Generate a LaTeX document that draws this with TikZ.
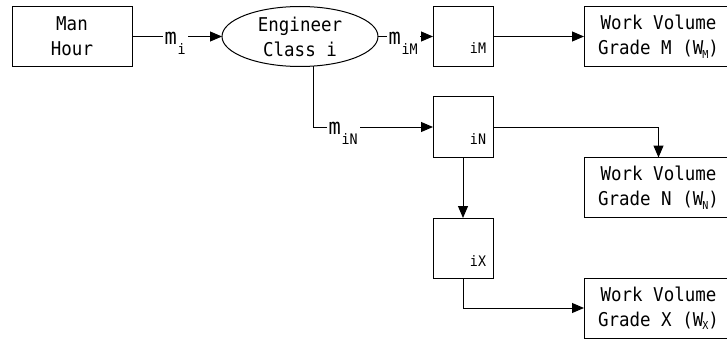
\documentclass[tikz,border=0pt]{standalone}
\usepackage{fontspec}
\newfontfamily\monofnt[FakeStretch=0.92]{DejaVu Sans Mono}
\usetikzlibrary{arrows.meta,shapes.geometric}
\newcommand\mlab[1]{{\fontsize{22}{22}\selectfont m}\kern1pt\raisebox{-10pt}{\fontsize{14.5}{15}\selectfont #1}}
\newcommand\wsub[1]{\kern-1pt\raisebox{-3.5pt}{\fontsize{11}{11}\selectfont #1}}
\begin{document}
\begin{tikzpicture}[x=1pt,y=-1pt,
  font=\monofnt\fontsize{19}{25}\selectfont,
  line width=1pt,
  box/.style={draw, rectangle, minimum width=120pt, minimum height=60pt, align=center, inner sep=0pt, outer sep=0pt},
  wbox/.style={box, minimum width=149pt},
  sbox/.style={draw, rectangle, minimum width=60pt, minimum height=60pt, inner sep=0pt, outer sep=0pt},
  ell/.style={draw, ellipse, minimum width=156pt, minimum height=60pt, inner sep=0pt, outer sep=0pt},
  txt/.style={align=center, inner sep=0pt},
  blab/.style={font=\monofnt\fontsize{14.5}{15}\selectfont, inner sep=0pt},
  mlabel/.style={fill=white, inner xsep=2pt, inner ysep=1pt, anchor=base west},
  arr/.style={-{Triangle[length=12pt,width=10pt]}}]
\useasboundingbox (0,0) rectangle (727,342);

\node[box] (man) at (72,36.5) {Man\\Hour};
\node[ell] (eng) at (300,36.5) {};
\node[txt] (engt) at (300,36.5) {Engineer\\Class i};
\node[sbox] (iM) at (463,36.5) {};
\node[blab] (iMl) at (478,48) {iM};
\node[wbox] (gM) at (658.5,36.5) {Work Volume\\Grade M (W\wsub{M})};
\node[sbox] (iN) at (463,127) {};
\node[blab] (iNl) at (478,138.5) {iN};
\node[wbox] (gN) at (658.5,187.5) {Work Volume\\Grade N (W\wsub{N})};
\node[sbox] (iX) at (463,248) {};
\node[blab] (iXl) at (478,261) {iX};
\node[wbox] (gX) at (658.5,308) {Work Volume\\Grade X (W\wsub{X})};

\draw[arr] (man) -- (eng);
\draw[arr] (eng) -- (iM);
\draw[arr] (iM) -- (gM);
\draw[arr] (eng.-66) |- (iN);
\draw[arr] (iN) -| (gN);
\draw[arr] (iN) -- (iX);
\draw[arr] (iX) |- (gX);

\node[mlabel] (lmi) at (162,45) {\mlab{i}};
\node[mlabel] (lmM) at (386,45) {\mlab{iM}};
\node[mlabel] (lmN) at (326,134) {\mlab{iN}};
\end{tikzpicture}
\end{document}
